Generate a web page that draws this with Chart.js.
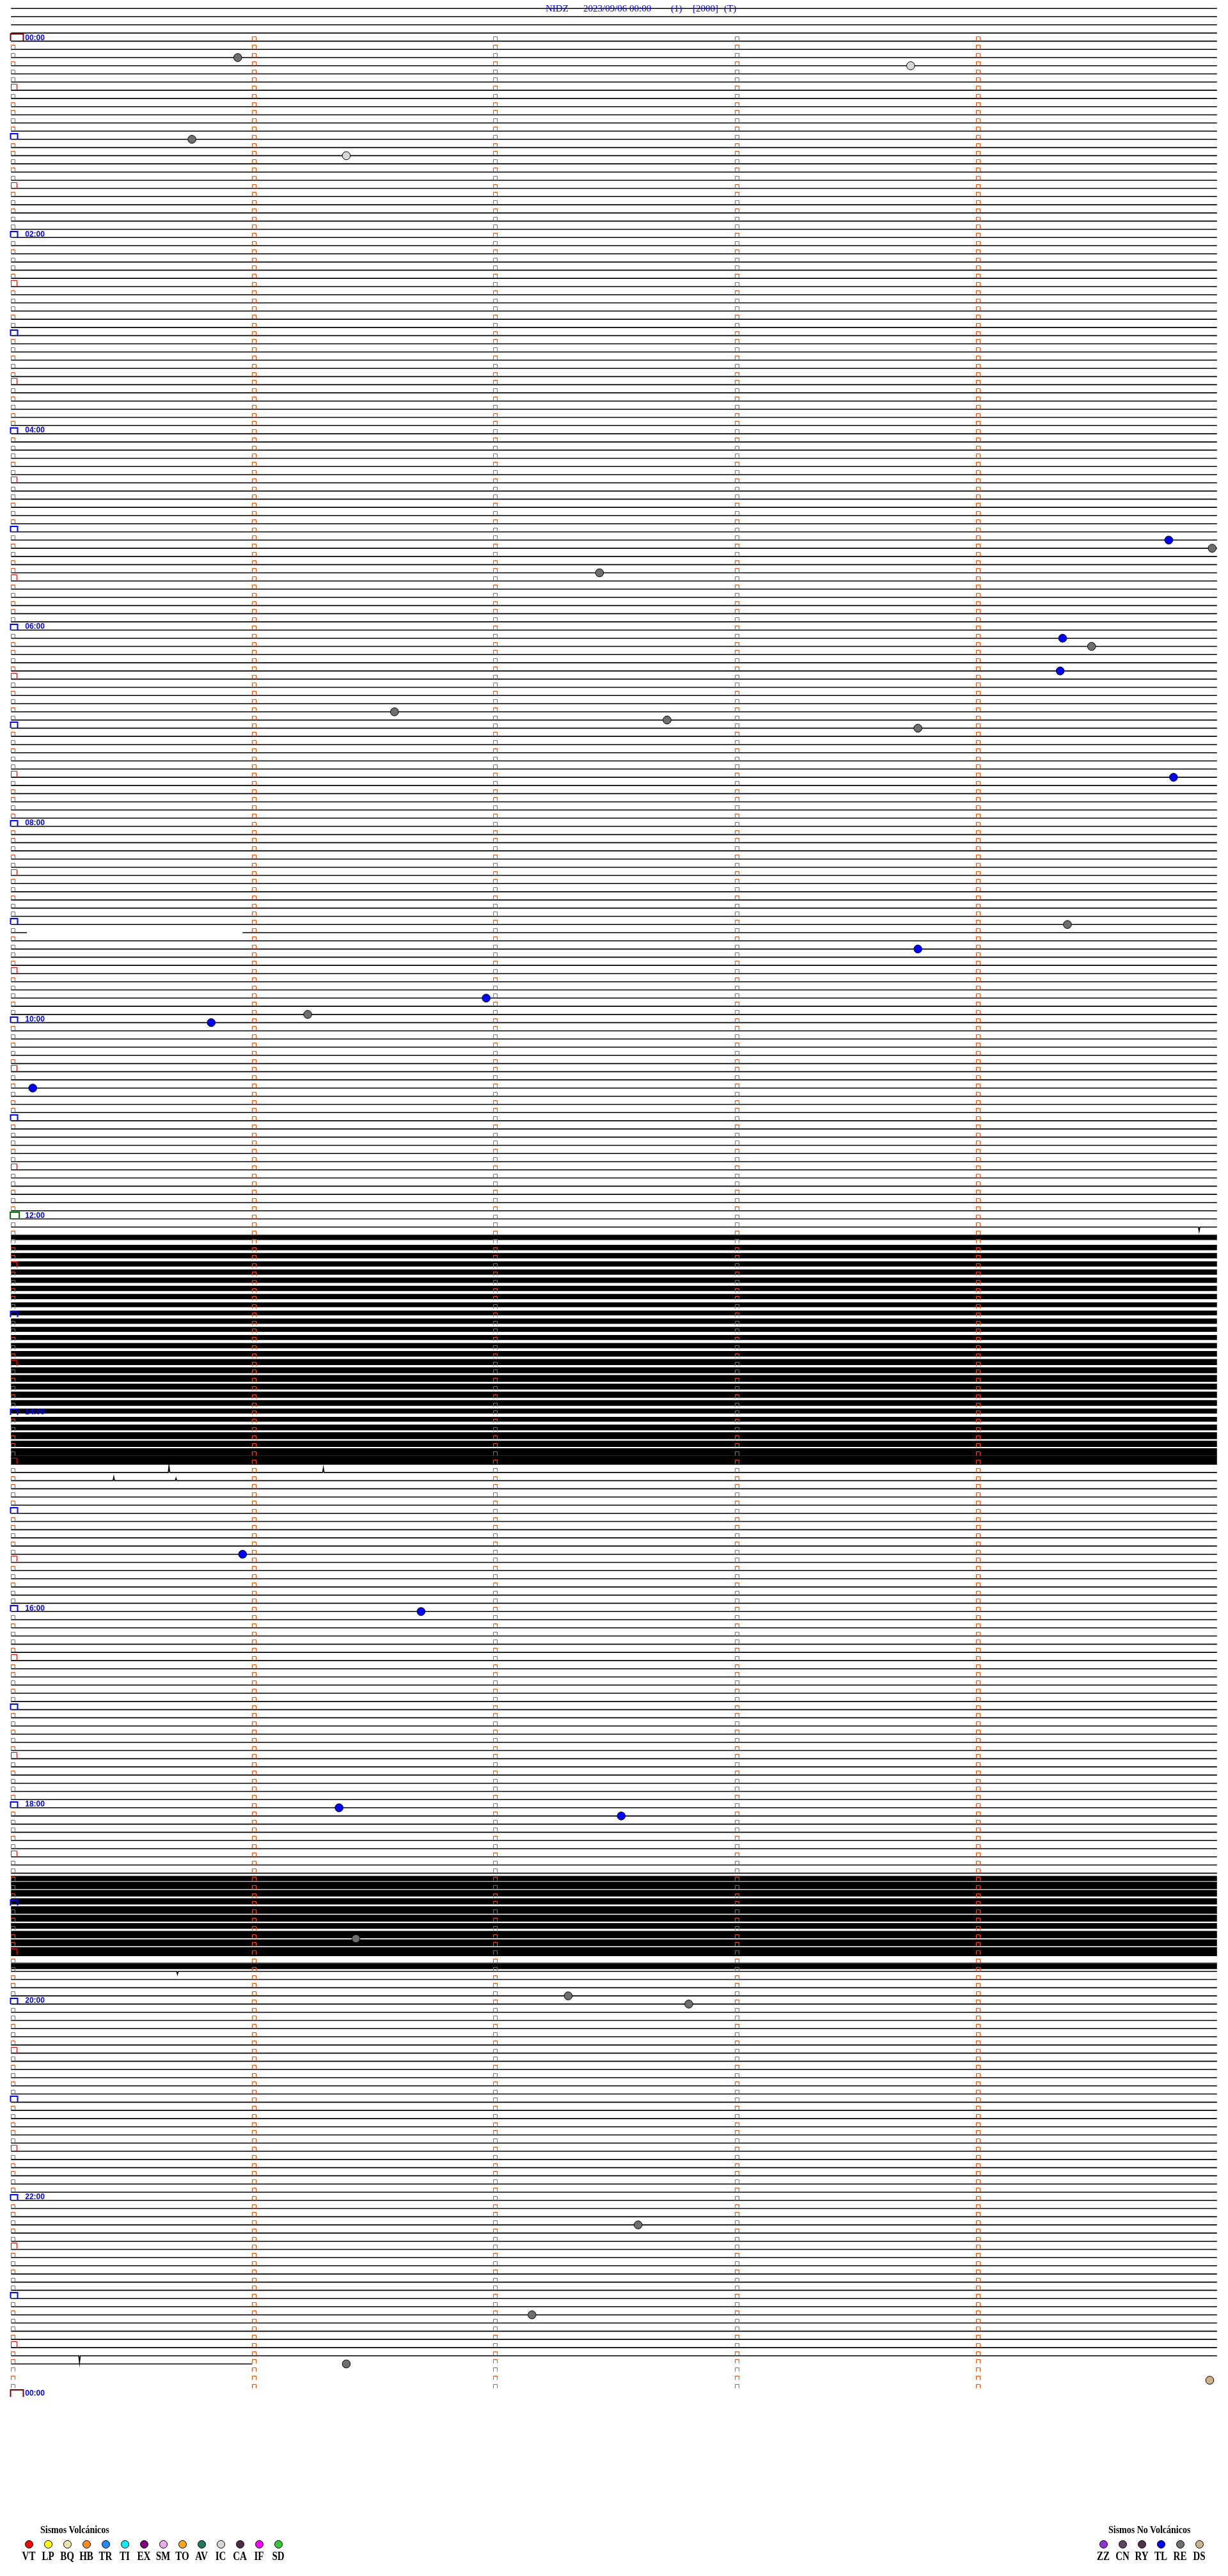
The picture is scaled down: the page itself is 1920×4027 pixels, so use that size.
<!DOCTYPE html>
<html lang="es">
<head>
  <meta charset="utf-8">
  <title>NIDZ 2023/09/06</title>
  <style>
    body { margin: 0; background: #fff; }
    #wrap { position: relative; width: 1920px; height: 4027px; overflow: hidden; }
    #chart { position: absolute; left: 0; top: 0; }
    .t { position: absolute; white-space: pre; color: #0000ff; font: 15px/15px "Liberation Serif", serif; }
    .hr { position: absolute; white-space: pre; color: #0000ff; font: bold 12px/12px "Liberation Sans", Arial, sans-serif; }
    .lg-title { position: absolute; white-space: pre; color: #000; font: bold 14px/14px "Liberation Serif", serif; transform: scaleY(1.2); transform-origin: left bottom; }
    .dot { position: absolute; width: 11px; height: 11px; border: 1px solid #000; border-radius: 50%; }
    .code { position: absolute; width: 40px; text-align: center; color: #000; font: bold 15px/15px "Liberation Serif", serif; transform: scaleY(1.25); transform-origin: center bottom; }
  </style>
</head>
<body>
  <div id="wrap">
    <canvas id="chart" width="1920" height="4027"></canvas>
  </div>
  <script src="https://cdn.jsdelivr.net/npm/chart.js"></script>
  <script>
    // helicorder: one row = 5 minutes, 12 rows per hour, x in minutes inside the row
    var rowZeroPx = 57.3;
    var pxPerRow = 12.832;
    var topRow = -4;
    var lastDataRow = 284;

    var hourLabels = ['00:00', '02:00', '04:00', '06:00', '08:00', '10:00', '12:00',
                      '14:00', '16:00', '18:00', '20:00', '22:00', '00:00'];

    // rows with a cut in the trace
    var partialRows = [284];
    var partialEnd = [1.0];
    var gapRows = [109];
    var gapFrom = [0.066];
    var gapTo = [0.96];

    // isolated spikes on flat rows (amplitude in rows, + = down)
    var spikeRows = [145, 175, 175, 176, 176, 236, 283];
    var spikeMins = [4.926, 0.655, 1.295, 0.426, 0.684, 0.69, 0.284];
    var spikeAmps = [0.5, -0.8, -0.55, -0.45, -0.3, 0.35, 0.85];

    // noisy stretches: centre offset and half height of the trace, in rows
    var band1Start = 146;
    var band1Center = [0.30, 0.5, 0.5, 0.5, 0.5, 0.5, 0.5, 0.5, 0.5, 0.5, 0.5, 0.5, 0.5, 0.5,
                       0.5, 0.5, 0.5, 0.5, 0.5, 0.5, 0.5, 0.5, 0.5, 0.5, 0.5, 0.5, 0.5, 0.5];
    var band1Half = [0.28, 0.33, 0.33, 0.32, 0.33, 0.33, 0.32, 0.32, 0.30, 0.30, 0.32, 0.30, 0.30, 0.32,
                     0.34, 0.38, 0.36, 0.42, 0.36, 0.38, 0.35, 0.30, 0.30, 0.35, 0.42, 0.38, 0.46, 0.50];
    var band2Start = 224;
    var band2Center = [0.65, 0.5, 0.45, 0.45, 0.5, 0.5, 0.45, 0.5, 0.5, 0.5, 0.0, 0.4];
    var band2Half = [0.32, 0.45, 0.40, 0.38, 0.45, 0.42, 0.35, 0.45, 0.42, 0.45, 0.15, 0.32];

    // classified events
    var eventRows = [2, 3, 12, 14, 61, 62, 65, 73, 74, 77, 82, 83, 84, 90, 108, 111, 117, 119, 120, 128,
                     185, 192, 216, 217, 232, 239, 240, 267, 278, 284, 286];
    var eventMins = [0.94, 3.73, 0.75, 1.39, 4.80, 4.98, 2.44, 4.36, 4.48, 4.35, 1.59, 2.72, 3.76, 4.82,
                     4.38, 3.76, 1.97, 1.23, 0.83, 0.09, 0.96, 1.70, 1.36, 2.53, 1.43, 2.31, 2.81, 2.60,
                     2.16, 1.39, 4.97];
    var eventTypes = ['RE', 'IC', 'RE', 'IC', 'TL', 'RE', 'RE', 'TL', 'RE', 'TL', 'RE', 'RE', 'RE', 'TL',
                      'RE', 'TL', 'TL', 'RE', 'TL', 'TL', 'TL', 'TL', 'TL', 'TL', 'RE', 'RE', 'RE', 'RE',
                      'RE', 'RE', 'DS'];

    var volcCodes = ['VT', 'LP', 'BQ', 'HB', 'TR', 'TI', 'EX', 'SM', 'TO', 'AV', 'IC', 'CA', 'IF', 'SD'];
    var volcColors = ['#ff0000', '#ffff00', '#eee4a8', '#ff8c1a', '#1e8cff', '#00f0ff', '#800080', '#eeaaee',
                      '#ffa510', '#207a58', '#d8d8d8', '#4c2c48', '#ff00ff', '#32c832'];
    var nonCodes = ['ZZ', 'CN', 'RY', 'TL', 'RE', 'DS'];
    var nonColors = ['#9030d8', '#5e4266', '#52304e', '#0000ff', '#6e6e6e', '#d0b08a'];

    var typeColor = {};
    volcCodes.forEach(function (c, i) { typeColor[c] = volcColors[i]; });
    nonCodes.forEach(function (c, i) { typeColor[c] = nonColors[i]; });

    function bandLimits() {
      return [
        { start: band1Start, end: band1Start + band1Half.length - 1 },
        { start: band2Start, end: band2Start + band2Half.length - 1 }
      ];
    }

    function hidesBaseline(r) {
      return bandLimits().some(function (b) { return r > b.start && r < b.end; });
    }

    // flat traces, one dataset with null breaks between rows
    var basePoints = [];
    for (var r = topRow; r <= lastDataRow; r++) {
      if (hidesBaseline(r)) continue;
      var end = 5;
      var pi = partialRows.indexOf(r);
      if (pi >= 0) end = partialEnd[pi];
      var cuts = [];
      spikeRows.forEach(function (sr, i) {
        if (sr === r) cuts.push({ m: spikeMins[i], a: spikeAmps[i] });
      });
      cuts.sort(function (a, b) { return a.m - b.m; });
      var gi = gapRows.indexOf(r);
      basePoints.push({ x: 0, y: r });
      cuts.forEach(function (c) {
        basePoints.push({ x: c.m - 0.003, y: r });
        basePoints.push({ x: c.m, y: r + c.a });
        basePoints.push({ x: c.m + 0.003, y: r });
      });
      if (gi >= 0) {
        basePoints.push({ x: gapFrom[gi], y: r });
        basePoints.push({ x: gapFrom[gi], y: null });
        basePoints.push({ x: gapTo[gi], y: r });
      }
      basePoints.push({ x: end, y: r });
      basePoints.push({ x: end, y: null });
    }

    function rowPx(chart) {
      var s = chart.scales && chart.scales.y;
      if (!s) return pxPerRow;
      return Math.abs(s.getPixelForValue(1) - s.getPixelForValue(0));
    }

    function bandDatasets(start, centers, halves) {
      return halves.map(function (h, i) {
        var row = start + i;
        return {
          type: 'line',
          data: [{ x: 0, y: row + centers[i] }, { x: 5, y: row + centers[i] }],
          borderColor: '#000',
          borderWidth: function (ctx) { return 2 * h * rowPx(ctx.chart); },
          borderCapStyle: 'butt',
          pointRadius: 0,
          fill: false
        };
      });
    }

    var eventPoints = eventRows.map(function (row, i) {
      return { x: eventMins[i], y: row };
    });

    var datasets = [
      {
        type: 'scatter',
        data: eventPoints,
        pointRadius: 6.3,
        pointBorderWidth: 1,
        pointBorderColor: '#000',
        pointBackgroundColor: eventTypes.map(function (t) { return typeColor[t]; })
      },
      {
        type: 'line',
        data: basePoints,
        borderColor: '#000',
        borderWidth: 1.6,
        pointRadius: 0,
        spanGaps: false,
        fill: false
      }
    ].concat(bandDatasets(band1Start, band1Center, band1Half))
     .concat(bandDatasets(band2Start, band2Center, band2Half));

    function openBox(ctx, left, bottom, w, h, color, lw) {
      ctx.strokeStyle = color;
      ctx.lineWidth = lw;
      ctx.beginPath();
      ctx.moveTo(left, bottom);
      ctx.lineTo(left, bottom - h);
      ctx.lineTo(left + w, bottom - h);
      ctx.lineTo(left + w, bottom);
      ctx.stroke();
    }

    var markerPlugin = {
      id: 'minuteMarks',
      afterDatasetsDraw: function (chart) {
        var ctx = chart.ctx;
        var xs = chart.scales.x;
        var ys = chart.scales.y;
        var rows = 24 * 12;
        ctx.save();
        for (var r = 0; r <= rows; r++) {
          var py = Math.round(ys.getPixelForValue(r)) - 0.5;
          var x0 = Math.round(xs.getPixelForValue(0));
          if (r < rows) {
            for (var m = 1; m <= 4; m++) {
              openBox(ctx, Math.round(xs.getPixelForValue(m)) + 0.5, py, 6, 6, '#ff4500', 1);
            }
          }
          if (r % rows === 0) {
            openBox(ctx, x0 - 0.5, py + 0.5, 20, 11, '#800000', 2);
          } else if (r === rows / 2) {
            openBox(ctx, x0 - 1, py + 0.5, 14, 11, '#008000', 2);
          } else if (r % 12 === 0) {
            openBox(ctx, x0 - 0.5, py + 0.5, 11, 9, '#0000ff', 2);
          } else if (r % 12 === 6) {
            openBox(ctx, x0 + 0.5, py, 9, 9, '#ff0000', 1);
          } else {
            openBox(ctx, x0 + 0.5, py, 6, 6, '#ff4500', 1);
          }
        }
        ctx.restore();
      }
    };

    var ctx = document.getElementById('chart').getContext('2d');
    var chart = new Chart(ctx, {
      type: 'line',
      data: { datasets: datasets },
      options: {
        responsive: false,
        devicePixelRatio: 1,
        animation: false,
        events: [],
        layout: { padding: 0 },
        plugins: { legend: { display: false }, title: { display: false }, tooltip: { enabled: false } },
        scales: {
          x: { type: 'linear', display: false, min: -10 / 380, max: 1910 / 380 },
          y: {
            type: 'linear', display: false, reverse: true,
            min: -rowZeroPx / pxPerRow,
            max: (4027 - rowZeroPx) / pxPerRow
          }
        }
      },
      plugins: [markerPlugin]
    });

    var wrap = document.getElementById('wrap');
    function addText(cls, text, left, top, color) {
      var d = document.createElement('div');
      d.className = cls;
      d.textContent = text;
      d.style.left = left + 'px';
      d.style.top = top + 'px';
      if (color) d.style.color = color;
      wrap.appendChild(d);
      return d;
    }

    // header
    var titleParts = ['NIDZ', '2023/09/06 00:00', '(1)', '[2000]', '(T)'];
    var titleX = [853, 912, 1049, 1083, 1132];
    titleParts.forEach(function (t, i) { addText('t', t, titleX[i], 6); });

    // hour labels, every two hours
    var xs = chart.scales.x, ys = chart.scales.y;
    hourLabels.forEach(function (lab, i) {
      var py = ys.getPixelForValue(i * 24);
      addText('hr', lab, xs.getPixelForValue(0) + 22, py - 11.7);
    });

    // legends
    function legend(title, titleX, codes, colors, firstX) {
      addText('lg-title', title, titleX, 3950.3);
      codes.forEach(function (c, i) {
        var cx = firstX + 30 * i;
        var dot = document.createElement('div');
        dot.className = 'dot';
        dot.style.left = (cx - 6.5) + 'px';
        dot.style.top = '3970.5px';
        dot.style.background = colors[i];
        wrap.appendChild(dot);
        addText('code', c, cx - 20, 3991);
      });
    }
    legend('Sismos Volcánicos', 63, volcCodes, volcColors, 45);
    legend('Sismos No Volcánicos', 1733, nonCodes, nonColors, 1725);
  </script>
</body>
</html>
